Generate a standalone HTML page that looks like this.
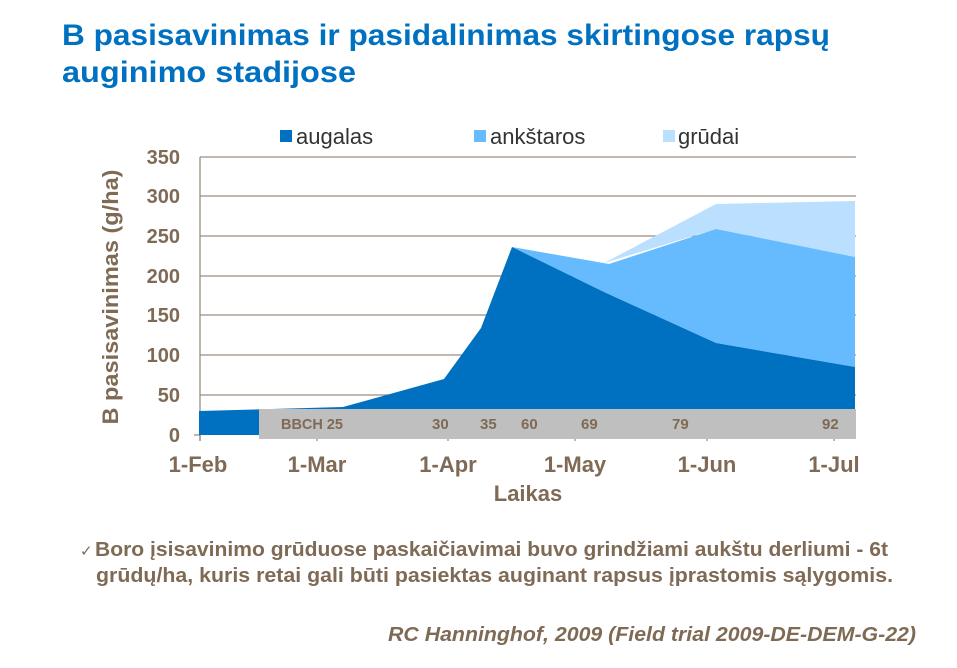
<!DOCTYPE html><html><head><meta charset="utf-8"><style>
body{margin:0;background:#fff;font-family:"Liberation Sans",sans-serif;}
</style></head><body>
<svg width="957" height="663" xmlns="http://www.w3.org/2000/svg" font-family="Liberation Sans, sans-serif">
<text x="62" y="45" font-size="30" font-weight="bold" fill="#0070C0" textLength="768" lengthAdjust="spacingAndGlyphs">B pasisavinimas ir pasidalinimas skirtingose rapsų</text>
<text x="62" y="82" font-size="30" font-weight="bold" fill="#0070C0" textLength="294" lengthAdjust="spacingAndGlyphs">auginimo stadijose</text>
<g stroke="#9a8e80" stroke-width="1.3">
<line x1="200" y1="157" x2="856" y2="157"/><line x1="200" y1="196" x2="856" y2="196"/>
<line x1="200" y1="236" x2="856" y2="236"/><line x1="200" y1="276" x2="856" y2="276"/>
<line x1="200" y1="315" x2="856" y2="315"/><line x1="200" y1="355" x2="856" y2="355"/>
<line x1="200" y1="395" x2="856" y2="395"/>
<line x1="200" y1="157" x2="200" y2="441"/>
<line x1="194" y1="435" x2="200" y2="435"/>
<line x1="317" y1="435" x2="317" y2="441"/><line x1="448" y1="435" x2="448" y2="441"/>
<line x1="575" y1="435" x2="575" y2="441"/><line x1="707" y1="435" x2="707" y2="441"/>
<line x1="834" y1="435" x2="834" y2="441"/><line x1="200" y1="435" x2="200" y2="441"/>
</g>
<polygon fill="#BBDFFF" points="604,263 716,204 855,201 855,257 716,229"/>
<polygon fill="#66BBFF" points="512,247 609,264 716,229 855,257 855,367 716,343 604,292"/>
<polygon fill="#0070C0" points="199,411 343,407 444,379 481,328 512,247 604,292 716,343 855,367 855,435 199,435"/>
<rect x="259" y="409" width="597" height="30" fill="#BFBFBF"/>
<g font-size="15" font-weight="bold" fill="#7F6A55">
<text x="281" y="429" textLength="62" lengthAdjust="spacingAndGlyphs">BBCH 25</text><text x="432" y="429">30</text><text x="480" y="429">35</text>
<text x="521" y="429">60</text><text x="581" y="429">69</text><text x="672" y="429">79</text><text x="822" y="429">92</text>
</g>
<g font-size="20" font-weight="bold" fill="#7F6A55" text-anchor="end">
<text x="180" y="164">350</text><text x="180" y="203">300</text><text x="180" y="243">250</text>
<text x="180" y="283">200</text><text x="180" y="322">150</text><text x="180" y="362">100</text>
<text x="180" y="402">50</text><text x="180" y="442">0</text>
</g>
<g font-size="22" font-weight="bold" fill="#7F6A55" text-anchor="middle">
<text x="198" y="472">1-Feb</text><text x="317" y="472">1-Mar</text><text x="448" y="472">1-Apr</text>
<text x="575" y="472">1-May</text><text x="707" y="472">1-Jun</text><text x="834" y="472">1-Jul</text>
<text x="528" y="501">Laikas</text>
<text transform="translate(118,297) rotate(-90)" textLength="255" lengthAdjust="spacingAndGlyphs">B pasisavinimas (g/ha)</text>
</g>
<rect x="280" y="130" width="12" height="12" fill="#0070C0"/>
<text x="296" y="144" font-size="22" fill="#333">augalas</text>
<rect x="474" y="130" width="12" height="12" fill="#66BBFF"/>
<text x="490" y="144" font-size="22" fill="#333">ankštaros</text>
<rect x="663" y="130" width="12" height="12" fill="#BBDFFF"/>
<text x="678" y="144" font-size="22" fill="#333">grūdai</text>
<g font-size="20" font-weight="bold" fill="#7F6A55">
<text x="80" y="556" font-size="15" font-weight="normal">✓</text>
<text x="95" y="556" textLength="793" lengthAdjust="spacingAndGlyphs">Boro įsisavinimo grūduose paskaičiavimai buvo grindžiami aukštu derliumi - 6t</text>
<text x="96" y="582" textLength="797" lengthAdjust="spacingAndGlyphs">grūdų/ha, kuris retai gali būti pasiektas auginant rapsus įprastomis sąlygomis.</text>
<text x="388" y="641" font-style="italic" textLength="528" lengthAdjust="spacingAndGlyphs">RC Hanninghof, 2009 (Field trial 2009-DE-DEM-G-22)</text>
</g>
</svg>
</body></html>
